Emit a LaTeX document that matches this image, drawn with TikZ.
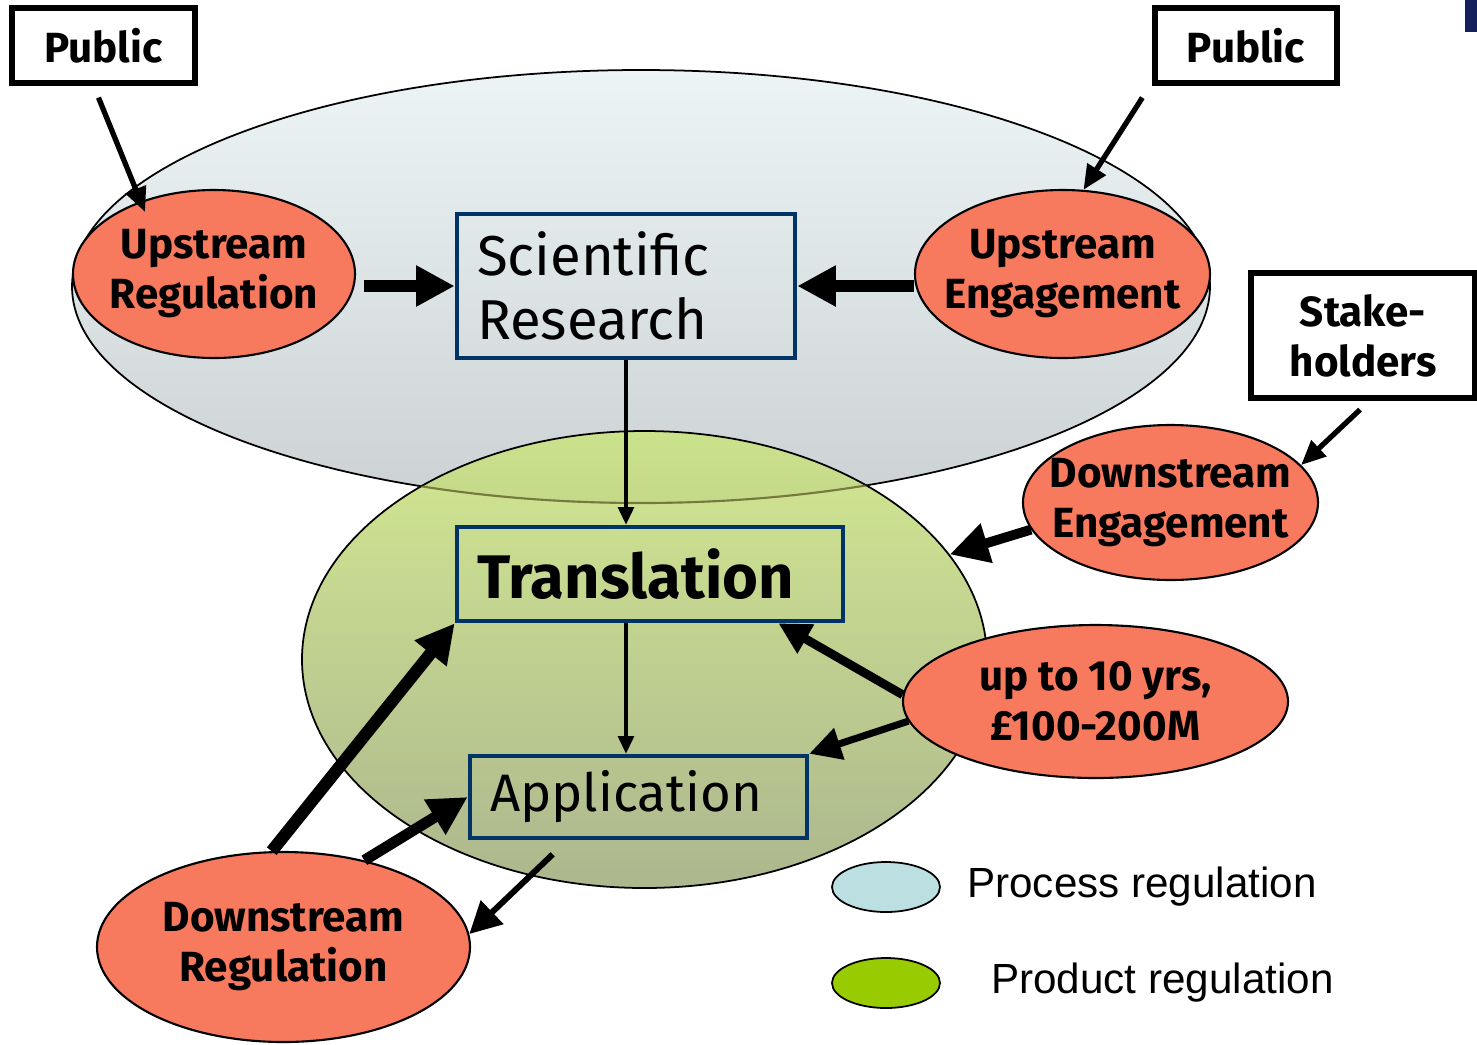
\documentclass[tikz,border=0pt]{standalone}
\usepackage{fontspec}
\setmainfont{Fira Sans}
\newfontfamily\legendfont{Liberation Sans}
\usepackage{tikz}
\usetikzlibrary{positioning,shapes,arrows.meta,calc}

\definecolor{salmon}{RGB}{247,121,94}
\definecolor{boxnavy}{RGB}{0,51,102}
\definecolor{barnavy}{RGB}{20,32,92}
\definecolor{procfill}{RGB}{188,224,226}
\definecolor{prodfill}{RGB}{153,204,0}

\begin{document}
\begin{tikzpicture}[
    blob/.style={
        ellipse,
        draw=black,
        line width=0.6pt,
        fill=salmon,
        inner xsep=-0.4cm,
        inner ysep=-0.3cm,
        align=center,
        font=\fontsize{12}{14.2}\selectfont\bfseries
    },
    tagbox/.style={
        rectangle,
        draw=black,
        line width=1.5pt,
        fill=white,
        inner sep=0pt,
        align=center,
        font=\fontsize{12}{14.2}\selectfont\bfseries
    },
    stagebox/.style={
        rectangle,
        draw=boxnavy,
        line width=1.3pt,
        inner xsep=0.2cm,
        inner ysep=0pt,
        align=left
    },
    zone/.style={
        ellipse,
        draw=black,
        line width=0.5pt,
        inner sep=0pt
    },
    thinarr/.style={line width=1.5pt, -{Triangle[length=7pt,width=6pt]}},
    linkarr/.style={line width=0.9pt, -{Triangle[length=5pt,width=4.5pt]}},
    midarr/.style={line width=2.2pt, -{Triangle[length=9pt,width=9pt]}},
    bigarr/.style={line width=3.3pt, -{Triangle[length=11pt,width=11pt]}}
]
    \useasboundingbox (0,0) rectangle (14.77,-10.44);
    \fill[barnavy] (14.65,0) rectangle (14.77,-0.32);

    % Regulation zones
    \node[zone, minimum width=11.38cm, minimum height=4.33cm,
          top color={rgb,255:red,236;green,244;blue,246},
          bottom color={rgb,255:red,204;green,210;blue,212}] (procell) at (6.41,-2.865) {};
    \node[zone, minimum width=6.85cm, minimum height=4.57cm, fill opacity=0.85,
          top color={rgb,255:red,202;green,228;blue,126},
          bottom color={rgb,255:red,158;green,170;blue,122}] (prodell) at (6.445,-6.595) {};
    \begin{scope}
        \clip (prodell.center) ellipse [x radius=3.425, y radius=2.285];
        \draw[line width=0.6pt, draw=olive!60!black, opacity=0.7]
            (procell.center) ellipse [x radius=5.69, y radius=2.165];
    \end{scope}

    % Actors
    \node[tagbox, minimum width=1.83cm, minimum height=0.75cm] (pubL) at (1.035,-0.455) {Public};
    \node[tagbox, minimum width=1.82cm, minimum height=0.75cm] (pubR) at (12.46,-0.455) {Public};
    \node[tagbox, minimum width=2.24cm, minimum height=1.25cm] (stake) at (13.63,-3.355) {Stake-\\holders};

    % Stages
    \node[stagebox, text width=2.98cm, minimum height=1.44cm,
          font=\fontsize{16}{18}\selectfont] (sci) at (6.26,-2.86) {Scientific\\Research};
    \node[stagebox, text width=3.46cm, minimum height=0.94cm,
          font=\fontsize{17.5}{20}\selectfont\bfseries] (trans) at (6.50,-5.74) {Translation};
    \node[stagebox, text width=2.97cm, minimum height=0.82cm,
          font=\fontsize{15}{18}\selectfont] (appl) at (6.385,-7.97) {Application};

    % Regulation and engagement
    \node[blob, minimum width=2.82cm, minimum height=1.68cm] (upreg) at (2.14,-2.74) {Upstream\\Regulation};
    \node[blob, minimum width=2.95cm, minimum height=1.68cm] (upeng) at (10.625,-2.74) {Upstream\\Engagement};
    \node[blob, minimum width=2.95cm, minimum height=1.55cm] (downeng) at (11.705,-5.025) {Downstream\\Engagement};
    \node[blob, minimum width=3.85cm, minimum height=1.53cm] (cost) at (10.955,-7.015) {up to 10 yrs,\\\pounds100-200M};
    \node[blob, minimum width=3.73cm, minimum height=1.90cm] (downreg) at (2.835,-9.47) {Downstream\\Regulation};

    % Legend
    \node[zone, fill=procfill, minimum width=1.08cm, minimum height=0.5cm] (procleg) at (8.86,-8.87) {};
    \node[zone, fill=prodfill, minimum width=1.08cm, minimum height=0.5cm] (prodleg) at (8.86,-9.83) {};
    \node[right=0.14cm of procleg, font=\legendfont\fontsize{12}{14}\selectfont] (proctext) {Process regulation};
    \node[right=0.38cm of prodleg, font=\legendfont\fontsize{12}{14}\selectfont] (prodtext) {Product regulation};

    % Connectors
    \draw[thinarr] ([shift={(-0.05,-0.12)}]pubL.south) -- ([shift={(-0.69,0.62)}]upreg.center);
    \draw[thinarr] ([shift={(-0.10,-0.12)}]pubR.south west) -- (upeng.76);
    \draw[thinarr] ([shift={(-0.03,-0.09)}]stake.south) -- (downeng.16);

    \draw[bigarr, shorten <=0.08cm] (upreg.east |- sci.west) -- (sci.west);
    \draw[bigarr] (upeng.west |- sci.east) -- (sci.east);

    \draw[linkarr] (sci.south) -- (sci.south |- trans.north);
    \draw[linkarr] (trans.south -| sci.south) -- (sci.south |- appl.north);

    \draw[bigarr, line width=2.8pt] (downeng.191) -- (prodell.19);
    \draw[midarr, line width=2.5pt] (cost.178) -- (trans.-21);
    \draw[midarr, line width=2pt] (cost.186) -- (appl.north east);

    \draw[bigarr, line width=3.5pt] (downreg.97) -- (trans.south west);
    \draw[bigarr, line width=3.1pt] (downreg.47) -- (appl.west);
    \draw[midarr, line width=1.7pt] ([shift={(0.85,-0.14)}]appl.south west) -- (downreg.4);
\end{tikzpicture}
\end{document}
